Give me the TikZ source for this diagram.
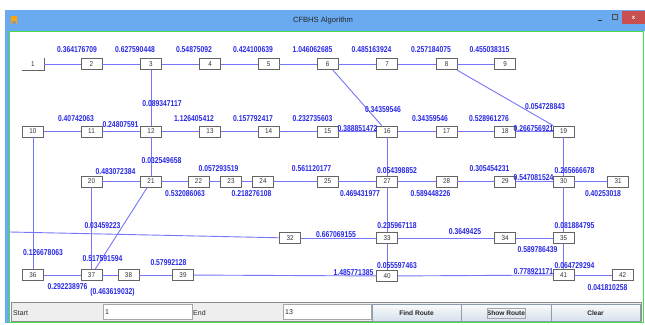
\documentclass[tikz,border=0pt]{standalone}
\usepackage{fontspec}
\setmainfont{Liberation Sans}
\newfontfamily\labfont[FakeStretch=0.8]{Liberation Sans}
\newfontfamily\boxfont[FakeStretch=0.9]{Liberation Sans}
\definecolor{edgec}{RGB}{118,118,250}
\definecolor{labc}{RGB}{40,40,230}
\definecolor{titlec}{RGB}{106,170,240}
\definecolor{greenc}{RGB}{70,222,70}
\definecolor{boxc}{RGB}{100,100,100}
\definecolor{panelc}{RGB}{238,238,238}
\definecolor{btntop}{RGB}{250,251,252}
\definecolor{btnbot}{RGB}{214,224,236}
\definecolor{btnborder}{RGB}{140,156,174}
\definecolor{closec}{RGB}{200,80,80}
\tikzset{
  box/.style={draw=boxc,fill=white,line width=0.8pt,minimum width=21pt,minimum height=11pt,inner sep=0pt,
    font=\boxfont\fontsize{7}{8}\selectfont,text=black!80},
  edge/.style={draw=edgec,line width=0.9pt},
  lab/.style={inner sep=0pt,font=\labfont\bfseries\fontsize{8.5}{9}\selectfont,text=labc},
  uitext/.style={inner sep=0pt,font=\fontsize{7}{8}\selectfont,text=black!85},
  btn/.style={draw=btnborder,top color=btntop,bottom color=btnbot,line width=0.6pt},
  field/.style={draw=black!35,fill=white,line width=0.6pt}
}
\begin{document}
\begin{tikzpicture}[x=1pt,y=-1pt]
\useasboundingbox[fill=white] (0,0) rectangle (645,324);
% window frame
\fill[titlec] (5,10) rectangle (645,31);
\fill[titlec] (5,31) rectangle (9,323);
\draw[greenc,line width=1pt] (9,31) rectangle (643,322);
% title bar items
\fill[orange!70!yellow] (10.5,16) rectangle (16.5,24);
\fill[black!40] (11.5,21) rectangle (15.5,24);
\node[inner sep=0pt,font=\fontsize{7.6}{8}\selectfont,text=black!85] (title) at (323,20.5) {CFBHS Algorithm};
\draw[black!80,line width=1pt] (598,20) -- (602,20);
\draw[black!70,line width=0.6pt] (612,14.5) rectangle (617,19);
\fill[closec] (622,11) rectangle (645,24);
\node[inner sep=0pt,font=\bfseries\fontsize{6}{7}\selectfont,text=white] (closex) at (633.5,17.5) {x};

% nodes
\foreach \n/\x/\y in {1/33/64,2/91.5/64,3/151/64,4/210/64,5/268.5/64,6/327.5/64,7/387/64,8/446.5/64,9/505/64,
  10/33/131.5,11/91.5/131.5,12/151/131.5,13/210/131.5,14/268.5/131.5,15/327.5/131.5,16/387/131.5,17/446.5/131.5,18/505/131.5,19/563.5/131.5,
  20/91.5/181.5,21/151/181.5,22/198.5/181.5,23/231/181.5,24/263/181.5,25/327.5/181.5,27/387/181.5,28/446.5/181.5,29/505/181.5,30/563.5/181.5,31/618/181.5,
  32/290/238,33/387/238,34/505/238,35/563.5/238,
  36/33/275,37/91.5/275,38/128.5/275,39/183/275,40/387/276,41/563.5/275,42/622.5/275}
  {\ifnum\n=1
     \node[box,draw=none] (n\n) at (\x,\y) {\n};
   \else
     \node[box] (n\n) at (\x,\y) {\n};
   \fi}
\draw[boxc,line width=0.8pt] (n1.south west) -- (n1.south east) -- (n1.north east);

% edges
\foreach \a/\b in {1/2,2/3,3/4,4/5,5/6,6/7,7/8,8/9,
  3/12,6/16,8/19,
  10/11,11/12,12/13,13/14,14/15,15/16,16/17,17/18,18/19,
  10/36,12/21,16/27,19/30,
  20/21,21/22,22/23,23/24,24/25,25/27,27/28,28/29,29/30,30/31,
  20/37,21/37,27/33,30/35,
  32/33,33/34,34/35,
  33/40,35/41,
  36/37,37/38,38/39,39/40,40/41,41/42}
  {\draw[edge] (n\a) -- (n\b);}
\coordinate (lft) at (10,232);
\draw[edge] (lft) -- (n32);

% edge labels
\foreach \x/\y/\t [count=\i] in {77/50/0.364176709,135/50/0.627590448,194/50/0.54875092,253/50/0.424100639,
  312.5/50/1.046062685,371.5/50/0.485163924,431/50/0.257184075,489.5/50/0.455038315,
  162/104/0.089347117,383/110/0.34359546,545/107/0.054728843,
  76/119/0.40742063,120.5/125/0.24807591,194/119/1.126405412,253/119/0.157792417,312.5/119/0.232735603,
  357.5/129/0.388851472,430/119/0.34359546,489/119/0.528961276,533.5/129/0.266756921,
  161.5/161/0.032549658,397/171/0.054398852,574.5/171/0.265666678,
  115.5/172/0.483072384,185/194/0.532086063,218.5/169/0.057293519,251.5/194/0.218276108,
  311.5/169/0.561120177,360/194/0.469431977,430.5/194/0.589448226,489.5/169/0.305454231,
  533.5/178/0.547081524,603/194/0.40253018,
  102.5/226/0.03459223,397/226/0.235967118,574.5/226/0.081884795,43/253/0.126678063,102.5/259/0.517591594,
  336/235/0.667069155,465/232/0.3649425,537.5/250/0.589786439,
  67.5/287/0.292238976,112.5/292/(0.463619032),168.5/263/0.57992128,353.5/273/1.485771385,
  533.5/272/0.778921171,574.5/266/0.064729294,397/266/0.055597463,607.5/288/0.041810258}
  {\node[lab] (l\i) at (\x,\y) {\t};}

% bottom panel
\draw[black!45,fill=panelc,line width=0.6pt] (11,302) rectangle (641,321);
\node[uitext,anchor=west] (startlbl) at (13,313) {Start};
\draw[field] (103,304) rectangle (192,319);
\node[uitext,anchor=west] (startval) at (105,312) {1};
\node[uitext,anchor=west] (endlbl) at (193,313) {End};
\draw[field] (283,304) rectangle (371,319);
\node[uitext,anchor=west] (endval) at (285,312) {13};
\draw[btn] (372,304) rectangle (461,321);
\draw[btn] (461,304) rectangle (551,321);
\draw[btn] (551,304) rectangle (640,321);
\node[uitext,font=\bfseries\fontsize{6.6}{8}\selectfont] (find) at (416.5,313) {Find Route};
\node[uitext,font=\bfseries\fontsize{6.6}{8}\selectfont] (show) at (506,313) {Show Route};
\draw[black!35,line width=0.4pt] (487,308) rectangle (525,318);
\node[uitext,font=\bfseries\fontsize{6.6}{8}\selectfont] (clear) at (595.5,313) {Clear};
\end{tikzpicture}
\end{document}
